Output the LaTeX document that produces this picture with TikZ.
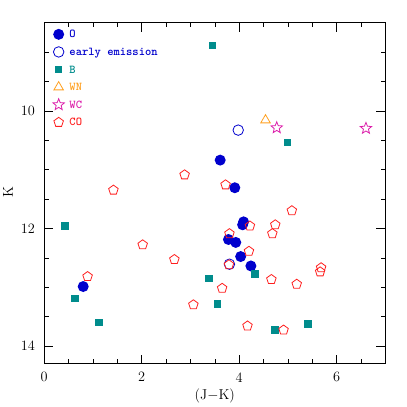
\documentclass[tikz,border=0pt]{standalone}
\usepackage{fontspec}
\usetikzlibrary{shapes.geometric}
\definecolor{oblue}{RGB}{0,0,205}
\definecolor{bteal}{RGB}{0,140,140}
\definecolor{wnorange}{RGB}{255,160,32}
\definecolor{wcmagenta}{RGB}{220,30,170}
\definecolor{cored}{RGB}{255,30,30}
\begin{document}
\begin{tikzpicture}[x=48.75pt,y=-58.8pt]
\tikzstyle{ostar} = [circle, fill=oblue, inner sep=0pt, minimum size=11pt]
\tikzstyle{early} = [circle, draw=oblue, line width=0.8pt, inner sep=0pt, minimum size=10.5pt]
\tikzstyle{bstar} = [rectangle, fill=bteal, inner sep=0pt, minimum size=7.5pt]
\tikzstyle{wnstar} = [regular polygon, regular polygon sides=3, draw=wnorange, line width=0.8pt, inner sep=0pt, minimum size=11pt]
\tikzstyle{wcstar} = [star, star points=5, star point ratio=2.3, draw=wcmagenta, line width=0.8pt, inner sep=0pt, minimum size=12pt]
\tikzstyle{costar} = [regular polygon, regular polygon sides=5, draw=cored, line width=0.8pt, inner sep=0pt, minimum size=10pt]
\tikzstyle{key} = [font=\fontsize{12}{14}\ttfamily\bfseries, anchor=base west, inner sep=0pt]
\tikzstyle{num} = [font=\fontsize{14.3}{17}\selectfont, inner sep=0pt]

\useasboundingbox (-0.9067,8.117) rectangle (7.442,15.039);

% frame and ticks
\draw[line width=0.8pt] (0,8.5) rectangle (7,14.3);
\foreach \x in {0.5,1.0,...,6.5}
  \draw (\x,14.3) -- ++(0,4.5pt) (\x,8.5) -- ++(0,-4.5pt);
\foreach \x in {2,4,6}
  \draw (\x,14.3) -- ++(0,9pt) (\x,8.5) -- ++(0,-9pt);
\foreach \k in {9.0,9.5,...,14.0}
  \draw (0,\k) -- ++(4.5pt,0) (7,\k) -- ++(-4.5pt,0);
\foreach \k in {10,12,14}
  \draw (0,\k) -- ++(9pt,0) (7,\k) -- ++(-9pt,0);

\foreach \x in {0,2,4,6}
  \node[num, anchor=north] (xnum\x) at ([yshift=-8.7pt]\x,14.3) {\x};
\foreach \k in {10,12,14}
  \node[num, anchor=east] (knum\k) at ([xshift=-9pt]0,\k) {\k};
\node[num, anchor=north] (xlabel) at ([yshift=-25pt]3.5,14.3) {(J$-$K)};
\node[num, rotate=90] (klabel) at (-0.743,11.38) {K};

% data
\foreach \x/\k [count=\i] in {3.61/10.84, 3.91/11.31, 4.09/11.89, 4.07/11.94, 3.78/12.19,
    3.93/12.24, 4.03/12.48, 4.24/12.64, 0.80/12.99}
  \node[ostar] (o\i) at (\x,\k) {};
\foreach \x/\k [count=\i] in {3.98/10.33, 3.80/12.61}
  \node[early] (e\i) at (\x,\k) {};
\foreach \x/\k [count=\i] in {3.45/8.89, 4.99/10.54, 0.43/11.96, 0.63/13.19, 1.12/13.60,
    3.38/12.85, 4.32/12.78, 3.56/13.29, 4.73/13.73, 5.41/13.63}
  \node[bstar] (b\i) at (\x,\k) {};
\node[wnstar] (wn1) at (4.54,10.16) {};
\foreach \x/\k [count=\i] in {4.77/10.29, 6.60/10.30}
  \node[wcstar] (wc\i) at (\x,\k) {};
\foreach \x/\k [count=\i] in {2.88/11.09, 3.72/11.26, 5.08/11.70, 4.74/11.94, 4.68/12.09,
    4.22/11.96, 3.80/12.09, 4.20/12.39, 3.79/12.62, 3.65/13.02, 4.66/12.87, 5.18/12.95,
    3.06/13.30, 4.17/13.66, 4.91/13.73, 5.68/12.67, 5.66/12.74, 1.42/11.35, 2.02/12.28,
    2.67/12.53, 0.89/12.82}
  \node[costar] (co\i) at (\x,\k) {};

% legend
\foreach \st/\lab/\col [count=\i] in {ostar/O/oblue, early/early emission/oblue,
    bstar/B/bteal, wnstar/WN/wnorange, wcstar/WC/wcmagenta, costar/CO/cored} {
  \node[\st] (key\i) at (0.297,{8.701+0.2993*(\i-1)}) {};
  \node[key, text=\col] (lab\i) at ([xshift=10.6pt,yshift=-3.6pt]key\i.center) {\lab};
}
\end{tikzpicture}
\end{document}
